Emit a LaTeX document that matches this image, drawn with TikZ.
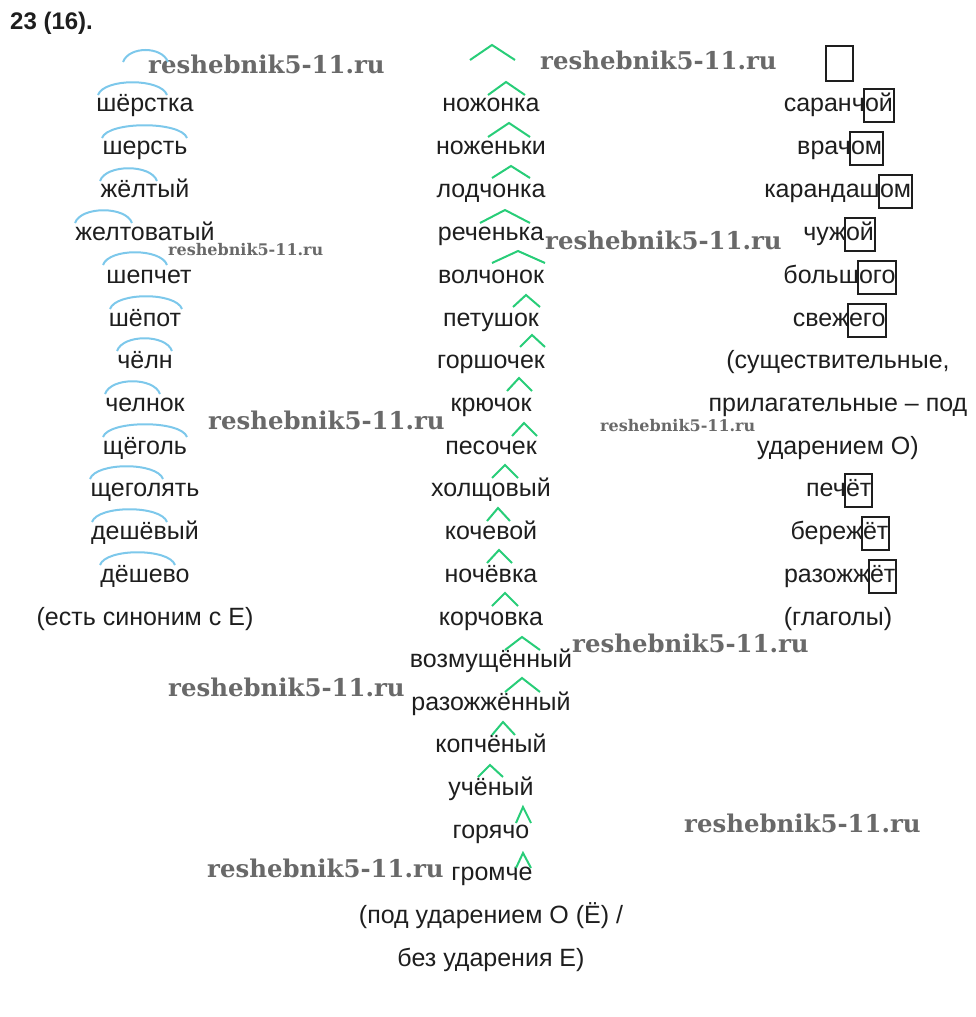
\documentclass[tikz,border=0pt]{standalone}
\usepackage{fontspec}
\setmainfont{Liberation Sans}
\newfontfamily\wmfont{DejaVu Serif}
\usetikzlibrary{positioning}

\definecolor{rootblue}{RGB}{125,200,235}
\definecolor{sufgreen}{RGB}{40,205,120}
\definecolor{inkgray}{RGB}{30,30,30}
\definecolor{wmgray}{RGB}{105,105,105}

\tikzset{
  word/.style={inner sep=0pt, anchor=base, text=inkgray, font=\fontsize{25}{30}\selectfont},
  endbox/.style={draw=inkgray, line width=2pt, inner xsep=1pt, inner ysep=2.5pt,
    text height=20pt, text depth=8pt, anchor=base west, text=inkgray,
    font=\fontsize{25}{30}\selectfont},
  rootmark/.style={draw=rootblue, line width=2pt},
  sufmark/.style={draw=sufgreen, line width=2pt},
  wmark/.style={inner sep=0pt, anchor=base west, text=wmgray,
    font=\wmfont\bfseries\fontsize{24.4}{28}\selectfont},
  wmsmall/.style={wmark, font=\wmfont\bfseries\fontsize{16}{19}\selectfont}
}

\begin{document}
\begin{tikzpicture}[x=1pt, y=-1pt]
    \useasboundingbox (0,0) rectangle (976,1017);
    \node[anchor=base west, inner sep=0pt, text=inkgray, font=\bfseries\fontsize{24}{28}\selectfont] (title) at (10,29) {23 (16).};

    % watermarks
    \node[wmark] (wm1) at (148,73) {reshebnik5-11.ru};
    \node[wmark] (wm2) at (540,69) {reshebnik5-11.ru};
    \node[wmsmall] (wm3) at (168,255) {reshebnik5-11.ru};
    \node[wmark] (wm4) at (545,249) {reshebnik5-11.ru};
    \node[wmark] (wm5) at (208,429) {reshebnik5-11.ru};
    \node[wmsmall] (wm6) at (600,431) {reshebnik5-11.ru};
    \node[wmark] (wm7) at (572,652) {reshebnik5-11.ru};
    \node[wmark] (wm8) at (168,696) {reshebnik5-11.ru};
    \node[wmark] (wm9) at (684,832) {reshebnik5-11.ru};
    \node[wmark] (wm10) at (207,877) {reshebnik5-11.ru};

    % left column: roots
    \node[word] (sherstka) at (145,111) {шёрстка};
    \node[word] (sherst) at (145,154) {шерсть};
    \node[word] (zholty) at (145,197) {жёлтый};
    \node[word] (zheltovaty) at (145,240) {желтоватый};
    \node[word] (shepchet) at (149,283) {шепчет};
    \node[word] (shopot) at (145,326) {шёпот};
    \node[word] (choln) at (145,368) {чёлн};
    \node[word] (chelnok) at (145,411) {челнок};
    \node[word] (shchogol) at (145,454) {щёголь};
    \node[word] (shchegolyat) at (145,496) {щеголять};
    \node[word] (deshovy) at (145,539) {дешёвый};
    \node[word] (dyoshevo) at (145,582) {дёшево};
    \node[word] (rootnote) at (145,625) {(есть синоним с Е)};

    \draw[rootmark] (123,62) .. controls +(6,-16) and +(-6,-16) .. (168,62);
    \draw[rootmark] (98,95) .. controls +(6,-17) and +(-6,-17) .. (167,95);
    \draw[rootmark] (102,138) .. controls +(6,-17) and +(-6,-17) .. (187,138);
    \draw[rootmark] (100,181) .. controls +(6,-17) and +(-6,-17) .. (157,181);
    \draw[rootmark] (75,223) .. controls +(6,-17) and +(-6,-17) .. (132,223);
    \draw[rootmark] (103,265) .. controls +(6,-17) and +(-6,-17) .. (167,265);
    \draw[rootmark] (110,309) .. controls +(6,-17) and +(-6,-17) .. (182,309);
    \draw[rootmark] (117,351) .. controls +(6,-17) and +(-6,-17) .. (172,351);
    \draw[rootmark] (105,394) .. controls +(6,-17) and +(-6,-17) .. (160,394);
    \draw[rootmark] (103,437) .. controls +(6,-17) and +(-6,-17) .. (187,437);
    \draw[rootmark] (90,479) .. controls +(6,-17) and +(-6,-17) .. (163,479);
    \draw[rootmark] (92,522) .. controls +(6,-17) and +(-6,-17) .. (167,522);
    \draw[rootmark] (100,565) .. controls +(6,-17) and +(-6,-17) .. (175,565);

    % middle column: suffixes
    \node[word] (nozhonka) at (491,111) {ножонка};
    \node[word] (nozhenki) at (491,154) {ноженьки};
    \node[word] (lodchonka) at (491,197) {лодчонка};
    \node[word] (rechenka) at (491,240) {реченька};
    \node[word] (volchonok) at (491,283) {волчонок};
    \node[word] (petushok) at (491,326) {петушок};
    \node[word] (gorshochek) at (491,368) {горшочек};
    \node[word] (kryuchok) at (491,411) {крючок};
    \node[word] (pesochek) at (491,454) {песочек};
    \node[word] (kholshchovy) at (491,496) {холщовый};
    \node[word] (kochevoy) at (491,539) {кочевой};
    \node[word] (nochovka) at (491,582) {ночёвка};
    \node[word] (korchovka) at (491,625) {корчовка};
    \node[word] (vozmushchonny) at (491,667) {возмущённый};
    \node[word] (razozhzhonny) at (491,710) {разожжённый};
    \node[word] (kopchony) at (491,752) {копчёный};
    \node[word] (uchony) at (491,795) {учёный};
    \node[word] (goryacho) at (491,838) {горячо};
    \node[word] (gromche) at (492,880) {громче};
    \node[word] (sufnote1) at (491,923) {(под ударением О (Ё) /};
    \node[word] (sufnote2) at (491,966) {без ударения Е)};

    \draw[sufmark] (470,60) -- (492,45) -- (515,60);
    \draw[sufmark] (488,95) -- (506,82) -- (525,95);
    \draw[sufmark] (488,137) -- (509,123) -- (530,137);
    \draw[sufmark] (492,178) -- (511,166) -- (530,178);
    \draw[sufmark] (480,223) -- (505,210) -- (530,223);
    \draw[sufmark] (492,263) -- (518,251) -- (545,263);
    \draw[sufmark] (513,307) -- (526,295) -- (540,307);
    \draw[sufmark] (520,347) -- (532,335) -- (545,347);
    \draw[sufmark] (507,391) -- (519,378) -- (532,391);
    \draw[sufmark] (512,436) -- (524,423) -- (537,436);
    \draw[sufmark] (492,478) -- (505,465) -- (518,478);
    \draw[sufmark] (487,521) -- (498,508) -- (510,521);
    \draw[sufmark] (487,563) -- (499,550) -- (512,563);
    \draw[sufmark] (492,606) -- (505,593) -- (518,606);
    \draw[sufmark] (505,650) -- (522,637) -- (540,650);
    \draw[sufmark] (505,692) -- (522,678) -- (540,692);
    \draw[sufmark] (492,735) -- (503,722) -- (515,735);
    \draw[sufmark] (478,777) -- (490,765) -- (503,777);
    \draw[sufmark] (516,823) -- (523,807) -- (531,823);
    \draw[sufmark] (516,868) -- (523,853) -- (531,868);

    % right column: endings
    \node[endbox, minimum width=27pt, minimum height=35pt, anchor=north west] (endlegend) at (825,45) {};
    \node[endbox] (saranchE) at (863,111) {ой};
    \node[word, base left=-2pt of saranchE] (saranch) {саранч};
    \node[endbox] (vrachE) at (849,154) {ом};
    \node[word, base left=-2pt of vrachE] (vrach) {врач};
    \node[endbox] (karandashE) at (878,197) {ом};
    \node[word, base left=-2pt of karandashE] (karandash) {карандаш};
    \node[endbox] (chuzhE) at (844,240) {ой};
    \node[word, base left=-2pt of chuzhE] (chuzh) {чуж};
    \node[endbox] (bolshE) at (857,283) {ого};
    \node[word, base left=-2pt of bolshE] (bolsh) {больш};
    \node[endbox] (svezhE) at (847,326) {его};
    \node[word, base left=-2pt of svezhE] (svezh) {свеж};
    \node[word] (endnote1) at (838,368) {(существительные,};
    \node[word] (endnote2) at (838,411) {прилагательные -- под};
    \node[word] (endnote3) at (838,454) {ударением О)};
    \node[endbox] (pechE) at (844,496) {ёт};
    \node[word, base left=-2pt of pechE] (pech) {печ};
    \node[endbox] (berezhE) at (861,539) {ёт};
    \node[word, base left=-2pt of berezhE] (berezh) {береж};
    \node[endbox] (razozhzhE) at (868,582) {ёт};
    \node[word, base left=-2pt of razozhzhE] (razozhzh) {разожж};
    \node[word] (endnote4) at (838,625) {(глаголы)};
\end{tikzpicture}
\end{document}
